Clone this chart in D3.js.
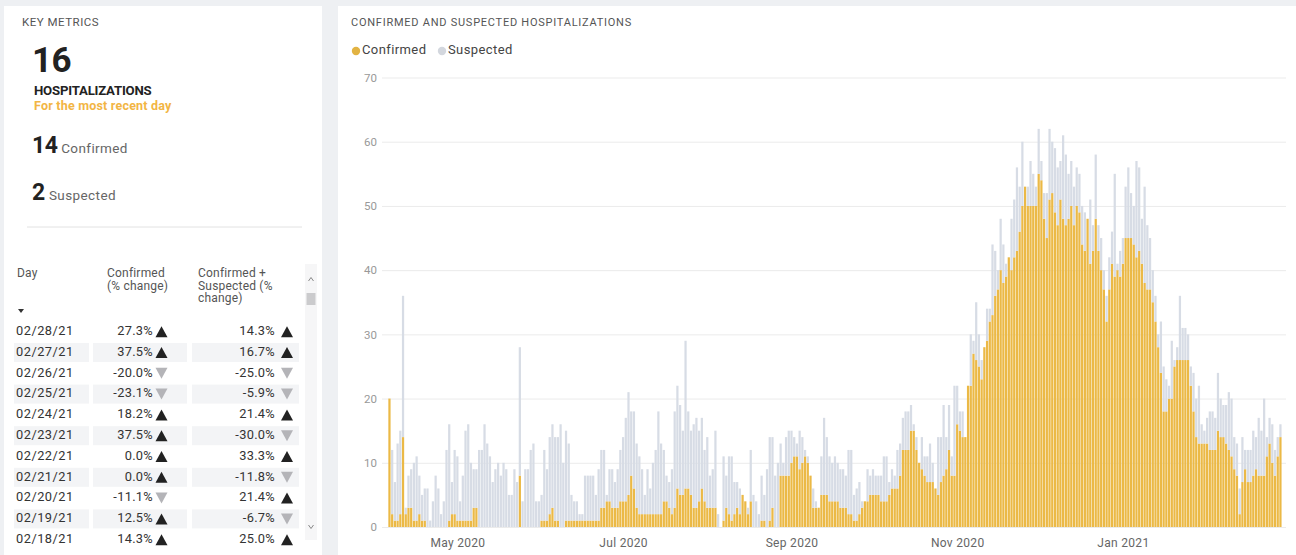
<!DOCTYPE html>
<html><head><meta charset="utf-8">
<script src="https://cdn.jsdelivr.net/npm/d3@7"></script>
<style>
html,body{margin:0;padding:0;background:#eef0f3;overflow:hidden;}
svg{display:block;font-family:Roboto,"Open Sans",sans-serif;}
</style></head><body>
<svg id="c" width="1296" height="555"></svg>
<script>
// ---------------- DATA ----------------
const startDay = "2020-04-06";           // first bar
const seriesNames = ["Confirmed", "Suspected"];
const confirmed = [
20,2,1,1,2,14,2,3,3,1, 1,2,1,1,0,0,0,0,0,0, 0,0,1,2,2,1,1,1,1,1, 1,3,3,0,0,0,0,0,0,0,
0,0,0,0,0,0,0,0,8,0, 0,0,0,0,0,0,1,1,1,2, 3,1,1,0,0,1,1,1,1,1,
1,1,1,1,1,1,1,1,3,3, 4,4,3,3,3,4,4,4,5,8, 6,3,2,2,2,2,2,2,2,2, 2,4,4,3,2,3,6,5,5,6,
6,5,3,3,4,6,4,3,3,3, 3,0,0,1,3,2,1,2,3,2, 5,4,2,4,0,0,0,1,1,0, 1,3,0,0,8,8,8,8,10,11, 11,
9,10,11,10,8,3,3,3,5,5, 5,4,4,4,4,3,3,3,2,2, 1,1,2,3,4,4,5,5,5,5, 4,4,4,5,6,6,6,8,12,12,
12,15,15,12,10,9,8,7,7,7, 6,5,7,8,9,12,
8,8,16,15,14,14,22,22,27,26, 25,23,28,29,32,33,36,37,40,38, 39,42,
40,42,43,46,50,53,50,50,50,50, 55,54,48,45,51,52,49,47,51,48, 47,48,50,47,50,49,44,43,48,41,
43,48,43,40,37,32,37,41,39,40, 39,41,45,45,45,44,42,43,41,38, 37,37,
35,32,28,24,18,18,20,20,25,26, 26,26,26,26,22,18,14,13,13,13, 13,12,12,12,15,14,14,13,12,11,
9,8,2,7,9,7,
7,8,9,8,8,8,11,13,10,8,11,14
];
const suspected = [
0,10,6,12,13,22,1,5,6,9, 10,6,4,5,6,1,4,8,6,2, 4,12,15,5,10,10,3,7,14,15, 9,6,6,12,12,16,13,11,7,9,
10,8,10,9,5,5,9,7,20,4, 9,9,12,13,4,4,4,11,8,12, 13,13,13,16,10,14,12,4,3,3,
1,1,7,7,7,7,4,8,9,9, 1,5,6,4,6,8,10,13,16,10, 12,10,9,7,3,7,4,8,10,16, 11,8,4,4,7,15,16,14,10,23,
12,10,13,14,11,11,8,11,5,6, 12,2,0,10,5,9,10,5,4,4, 0,0,1,8,5,4,2,7,4,9, 13,11,8,10,5,2,6,7,5,3, 2,
6,4,1,1,0,3,1,0,6,12, 9,7,6,7,6,6,6,5,10,10, 4,5,5,1,0,5,3,4,3,3, 4,7,7,2,3,2,6,5,5,6,
6,4,1,2,0,5,3,4,6,3, 0,9,7,11,5,7,
3,14,6,3,4,0,0,8,2,9, 5,3,0,5,2,11,7,3,8,6, 2,0,
8,9,13,7,10,0,3,7,5,3, 7,3,4,7,11,8,10,9,6,13, 11,7,7,6,6,6,6,6,0,10,
4,10,4,5,3,4,5,5,16,1, 4,4,8,11,7,6,15,13,7,15, 10,8,
5,4,2,8,7,5,2,9,1,2, 10,5,5,4,3,6,6,9,3,2, 4,6,6,5,9,6,5,6,9,9,
5,5,4,7,3,5,
5,7,5,9,7,12,3,4,6,4,3,2
];
const yTicks = [0,10,20,30,40,50,60,70];
const xTickDates = ["2020-05-01","2020-07-01","2020-09-01","2020-11-01","2021-01-01"];

// KPI
const kpiTotal = 16, kpiConfirmed = 14, kpiSuspected = 2;

// table
const tableDays = ["02/28/21","02/27/21","02/26/21","02/25/21","02/24/21","02/23/21","02/22/21","02/21/21","02/20/21","02/19/21","02/18/21"];
const confChange = [27.3,37.5,-20.0,-23.1,18.2,37.5,0.0,0.0,-11.1,12.5,14.3];
const totalChange = [14.3,16.7,-25.0,-5.9,21.4,-30.0,33.3,-11.8,21.4,-6.7,25.0];
const tableHeaders = [["Day"],["Confirmed","(% change)"],["Confirmed +","Suspected (%","change)"]];

// ---------------- STYLE ----------------
const C_CONF = "#EBB946", C_SUSP = "#D7DCE5";
const svg = d3.select("#c");

// panels
svg.append("rect").attr("x",4).attr("y",6).attr("width",318).attr("height",549).attr("fill","#fff");
svg.append("rect").attr("x",338).attr("y",6).attr("width",958).attr("height",549).attr("fill","#fff");

// ---------------- LEFT PANEL ----------------
const L = svg.append("g");
L.append("text").attr("x",22).attr("y",26).text("KEY METRICS")
  .attr("font-size",11.5).attr("letter-spacing",0.5).attr("fill","#555");
L.append("text").attr("x",32).attr("y",72).text(kpiTotal)
  .attr("font-size",35).attr("font-weight",700).attr("letter-spacing",-0.5).attr("fill","#222");
L.append("text").attr("x",34).attr("y",95).text("HOSPITALIZATIONS")
  .attr("font-size",13.2).attr("font-weight",700).attr("letter-spacing",-0.2).attr("fill","#222");
L.append("text").attr("x",34).attr("y",110).text("For the most recent day")
  .attr("font-size",12.5).attr("font-weight",700).attr("letter-spacing",0.2).attr("fill","#F2B544");
const t14 = L.append("text").attr("x",32).attr("y",153).attr("fill","#222");
t14.append("tspan").text(kpiConfirmed).attr("font-size",23).attr("font-weight",700).attr("letter-spacing",-0.5);
t14.append("tspan").text(" Confirmed").attr("font-size",13.5).attr("letter-spacing",0.4).attr("fill","#666");
const t2 = L.append("text").attr("x",32).attr("y",200).attr("fill","#222");
t2.append("tspan").text(kpiSuspected).attr("font-size",23).attr("font-weight",700);
t2.append("tspan").text(" Suspected").attr("font-size",13.5).attr("letter-spacing",0.4).attr("fill","#666");
L.append("line").attr("x1",27).attr("x2",302).attr("y1",227).attr("y2",227).attr("stroke","#e2e2e2");

// table
const colX = [17, 107, 198];
tableHeaders.forEach((lines,ci)=>{
  lines.forEach((s,li)=>{
    L.append("text").attr("x",colX[ci]).attr("y",274+li*12.5).attr("dominant-baseline","middle")
      .text(s).attr("font-size",12).attr("letter-spacing",0.2).attr("fill","#555");
  });
});
L.append("path").attr("d","M18,309 L24,309 L21,313 Z").attr("fill","#333");

const rowY = r => 331.7 + r*20.8;
const fmtPct = v => (v<0?"-":"") + Math.abs(v).toFixed(1) + "%";
tableDays.forEach((d,r)=>{
  const y = rowY(r);
  if (r % 2 === 1) {
    L.append("rect").attr("x",14).attr("y",y-9.5).attr("width",75).attr("height",19).attr("fill","#f3f4f6");
    L.append("rect").attr("x",93).attr("y",y-9.5).attr("width",94).attr("height",19).attr("fill","#f3f4f6");
    L.append("rect").attr("x",192).attr("y",y-9.5).attr("width",107).attr("height",19).attr("fill","#f3f4f6");
  }
  L.append("text").attr("x",16).attr("y",y).attr("dominant-baseline","middle").text(d)
    .attr("font-size",12.8).attr("letter-spacing",0.5).attr("fill","#333");
  [[confChange[r],153,161.5],[totalChange[r],275,287]].forEach(([v,tx,cx])=>{
    L.append("text").attr("x",tx).attr("y",y).attr("dominant-baseline","middle").attr("text-anchor","end")
      .text(fmtPct(v)).attr("font-size",12.8).attr("letter-spacing",0.3).attr("fill","#333");
    const up = v >= 0;
    L.append("path").attr("d", up
        ? `M${cx-6},${y+5.5} L${cx+6},${y+5.5} L${cx},${y-5.5} Z`
        : `M${cx-6},${y-5.5} L${cx+6},${y-5.5} L${cx},${y+5.5} Z`)
      .attr("fill", up ? "#222" : "#b4b4b8");
  });
});
// scrollbar
L.append("rect").attr("x",305).attr("y",264).attr("width",12).attr("height",276).attr("fill","#f6f6f7");
L.append("path").attr("d","M308.5,281 L311,277.5 L313.5,281").attr("fill","none").attr("stroke","#888").attr("stroke-width",1);
L.append("rect").attr("x",306.5).attr("y",293).attr("width",9).attr("height",12).attr("fill","#cbcbcd");
L.append("path").attr("d","M308.5,525 L311,528.5 L313.5,525").attr("fill","none").attr("stroke","#888").attr("stroke-width",1);

// ---------------- CHART ----------------
const R = svg.append("g");
R.append("text").attr("x",351).attr("y",26).text("CONFIRMED AND SUSPECTED HOSPITALIZATIONS")
  .attr("font-size",11).attr("letter-spacing",0.75).attr("fill","#555");
// legend
const legend = [[seriesNames[0], "#E2B343", 356, 362],[seriesNames[1], "#D3D7DE", 442, 448]];
legend.forEach(([name,col,cx,tx])=>{
  R.append("circle").attr("cx",cx).attr("cy",51).attr("r",4.2).attr("fill",col);
  R.append("text").attr("x",tx).attr("y",51).attr("dominant-baseline","middle").text(name)
    .attr("font-size",13).attr("letter-spacing",0.4).attr("fill","#444");
});

const parse = d3.utcParse("%Y-%m-%d");
const d0 = parse(startDay);
const data = confirmed.map((c,i)=>({date: d3.utcDay.offset(d0,i), Confirmed: c, Suspected: suspected[i]}));
const first = data[0].date, last = data[data.length-1].date;

const gridX0 = 382, gridX1 = 1286;
const x = d3.scaleUtc()
  .domain([d3.utcHour.offset(first,-12), d3.utcHour.offset(last,12)])
  .range([388.1, 1281.8]);
const y = d3.scaleLinear().domain([0,70]).range([527, 77.5]);
const step = x(data[1].date) - x(data[0].date);
const bw = step*0.82;

// grid + y axis
const yAxis = R.append("g").attr("transform",`translate(${gridX0},0)`)
  .call(d3.axisLeft(y).tickValues(yTicks).tickSize(-(gridX1-gridX0)).tickPadding(5));
yAxis.select(".domain").remove();
yAxis.selectAll("line").attr("stroke","#ebebeb");
yAxis.selectAll("text").attr("fill","#999").attr("font-size",11.5).attr("font-family","Roboto,sans-serif");

// stacked bars
const stack = d3.stack().keys(seriesNames)(data);
const colors = {Confirmed: C_CONF, Suspected: C_SUSP};
R.append("g").selectAll("g").data(stack).join("g").attr("fill", s=>colors[s.key])
  .selectAll("rect").data(s=>s).join("rect")
  .attr("x", d=>x(d.data.date)-bw/2)
  .attr("width", bw)
  .attr("y", d=>y(d[1]))
  .attr("height", d=>Math.max(0, y(d[0])-y(d[1])));

// x axis
const xAxis = R.append("g").attr("transform","translate(0,527)")
  .call(d3.axisBottom(x).tickValues(xTickDates.map(parse)).tickFormat(d3.utcFormat("%b %Y")).tickSize(0).tickPadding(11));
xAxis.select(".domain").remove();
xAxis.selectAll("text").attr("fill","#666").attr("font-size",12).attr("letter-spacing",0.3).attr("font-family","Roboto,sans-serif");
</script>
</body></html>
